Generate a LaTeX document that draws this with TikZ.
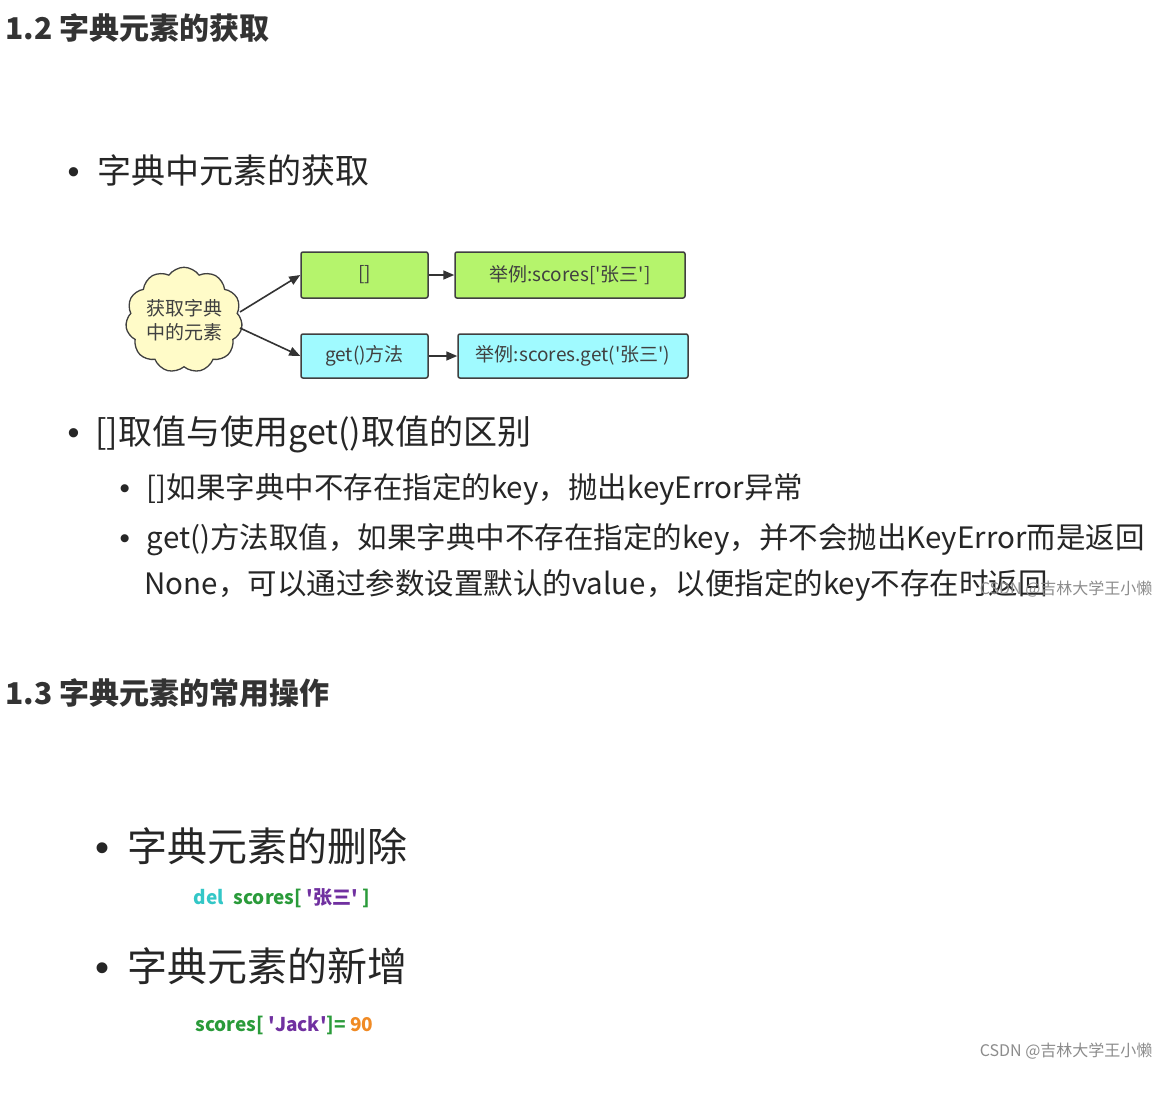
\documentclass[tikz,border=0pt]{standalone}
\usepackage{fontspec}
\setmainfont{Noto Sans CJK SC}
\newfontfamily\lat{Liberation Sans}
\newcommand{\bul}{{\lat\textbullet}}
\newcommand{\qq}{\textquotesingle}
\usetikzlibrary{shapes.symbols,arrows.meta}
\definecolor{boxg}{HTML}{B5F46C}
\definecolor{boxc}{HTML}{A0FAFF}
\definecolor{cloudf}{HTML}{FFFBC8}
\definecolor{cdel}{HTML}{33C7C7}
\definecolor{cgreen}{HTML}{2A9B3A}
\definecolor{cpurp}{HTML}{7030A0}
\definecolor{corange}{HTML}{F08A24}
\tikzset{
 head/.style={anchor=west,font=\fontsize{30}{34}\selectfont\bfseries,text=black!80},
 big/.style={anchor=west,font=\fontsize{34}{38}\selectfont,text=black!85},
 mid/.style={anchor=west,font=\fontsize{29.5}{32}\selectfont,text=black!85},
 huge/.style={anchor=west,font=\fontsize{40}{44}\selectfont,text=black!85},
 box/.style={draw=black!75,line width=1.5pt,rounded corners=2pt,font=\fontsize{19}{22}\selectfont,text=black!75,inner sep=0pt},
 arr/.style={-{Triangle[length=11pt,width=9pt]},line width=1.6pt,black!80},
 code/.style={anchor=west,font=\fontsize{19}{22}\selectfont\bfseries},
 wm/.style={anchor=east,font=\fontsize{16}{18}\selectfont,text=black!45}
}
\begin{document}
\begin{tikzpicture}[x=1pt,y=-1pt]
\useasboundingbox[fill=white] (0,0) rectangle (1176,1108);
\node[head] (h1) at (2,28) {1.2 字典元素的获取};
\node[big] (b1) at (64,170) {\bul\hspace{18pt}字典中元素的获取};
\node[draw=black!75,line width=1.3pt,fill=cloudf,cloud,cloud puffs=11,cloud puff arc=110,aspect=1.15,minimum width=104pt,minimum height=90pt,inner sep=0pt,align=center,font=\fontsize{19}{24}\selectfont,text=black!75] (cl) at (184,320) {获取字典\\中的元素};
\node[box,fill=boxg,minimum width=127pt,minimum height=46pt] (k1) at (364.5,275) {[]};
\node[box,fill=boxg,minimum width=230pt,minimum height=46pt] (e1) at (570,275) {举例:scores[\qq 张三\qq]};
\node[box,fill=boxc,minimum width=127pt,minimum height=44pt] (k2) at (364.5,356) {get()方法};
\node[box,fill=boxc,minimum width=230pt,minimum height=44pt] (e2) at (573,356) {举例:scores.get(\qq 张三\qq)};
\draw[arr] (cl.east) ++(-2,-8) coordinate (c1) -- (k1.west);
\draw[arr] (cl.east) ++(-2,8) coordinate (c2) -- (k2.west);
\draw[arr] (k1) -- (e1);
\draw[arr] (k2) -- (e2);
\node[big] (b2) at (64,434) {\bul\hspace{16pt}[]取值与使用get()取值的区别};
\node[mid] (s1) at (116,489) {\bul\hspace{17pt}[]如果字典中不存在指定的key，抛出keyError异常};
\node[mid] (s2) at (116,540) {\bul\hspace{17pt}get()方法取值，如果字典中不存在指定的key，并不会抛出KeyError而是返回};
\node[mid] (s3) at (141,585) {None，可以通过参数设置默认的value，以便指定的key不存在时返回};
\node[wm] (w1) at (1156,589) {CSDN @吉林大学王小懒};
\node[head] (h2) at (2,693) {1.3 字典元素的常用操作};
\node[huge] (b3) at (92,846) {\bul\hspace{18pt}字典元素的删除};
\node[code] (c1t) at (190,898) {\textcolor{cdel}{del}\hspace{10pt}\textcolor{cgreen}{scores[} \textcolor{cpurp}{\qq 张三\qq} \textcolor{cgreen}{]}};
\node[huge] (b4) at (92,966) {\bul\hspace{18pt}字典元素的新增};
\node[code] (c2t) at (192,1025) {\textcolor{cgreen}{scores[} \textcolor{cpurp}{\qq Jack\qq}\textcolor{cgreen}{]=} \textcolor{corange}{90}};
\node[wm] (w2) at (1156,1051) {CSDN @吉林大学王小懒};
\end{tikzpicture}
\end{document}
